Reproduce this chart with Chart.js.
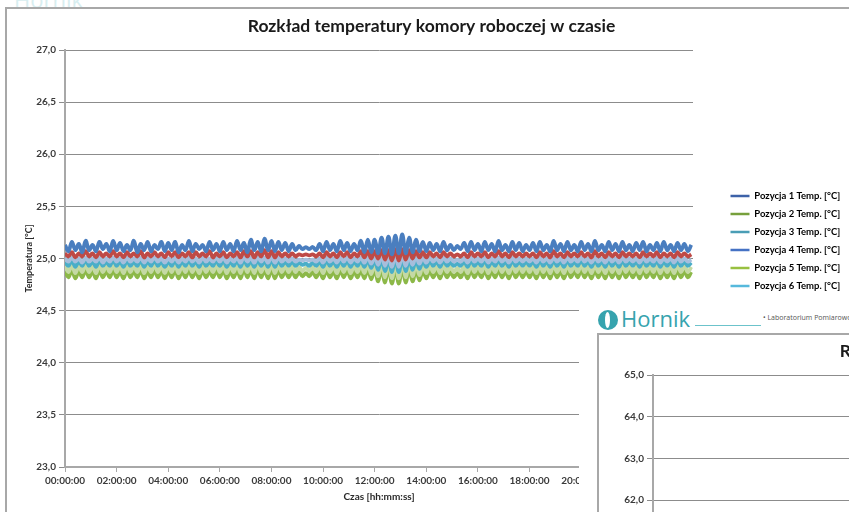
<!DOCTYPE html>
<html>
<head>
<meta charset="utf-8">
<script src="https://cdn.jsdelivr.net/npm/chart.js@4.4.1/dist/chart.umd.min.js"></script>
<style>
  html, body { margin: 0; width: 849px; height: 512px; overflow: hidden; background: #fff; font-family: Lato, sans-serif; }
  .frame { position: absolute; border: 2px solid #a8a8a8; box-sizing: border-box; }
  #frame1 { left: 5px; top: 7px; width: 900px; height: 600px; }
  #main { position: absolute; left: 0; top: 0; }
  #topLogo { position: absolute; left: 14px; top: -16px; font: 22px "Open Sans", sans-serif; color: #d8eef0; }
  #sheet2 { position: absolute; left: 579px; top: 300px; width: 300px; height: 260px; background: #fff; overflow: hidden; }
  .logo { position: absolute; left: 19px; top: 3px; font: 22px "Open Sans", sans-serif; color: #36a3ae; white-space: nowrap; }
  .logo i { display: inline-block; width: 20px; height: 20px; border-radius: 50%; background: #36a3ae; position: relative; vertical-align: -3px; margin-right: 3px; }
  .logo i::after { content: ""; position: absolute; left: 7px; top: 2px; width: 5px; height: 16px; border-radius: 50%; background: #fff; }
  #rule2 { position: absolute; left: 116px; top: 25px; width: 66px; height: 1px; background: #6cc3cb; }
  #lab2 { position: absolute; left: 184px; top: 13px; font: 7px "Open Sans", sans-serif; color: #555; white-space: nowrap; }
  #frame2 { left: 18px; top: 33px; width: 400px; height: 300px; }
  #second { position: absolute; left: 13px; top: 25px; }
</style>
</head>
<body>
<div id="topLogo">Hornik</div>
<div class="frame" id="frame1"></div>
<canvas id="main" width="863" height="512"></canvas>

<div id="sheet2">
  <div class="logo"><i></i>Hornik</div>
  <div id="rule2"></div>
  <div id="lab2">• Laboratorium Pomiarowo-Badawcze</div>
  <div class="frame" id="frame2"></div>
  <canvas id="second" width="863" height="512"></canvas>
</div>

<script>
// one reading every 8 minutes (peaks and troughs of the regulation cycle)
const sampleMinutes = 8;

const seriesNames = [
  "Pozycja 1 Temp. [°C]",
  "Pozycja 2 Temp. [°C]",
  "Pozycja 3 Temp. [°C]",
  "Pozycja 4 Temp. [°C]",
  "Pozycja 5 Temp. [°C]",
  "Pozycja 6 Temp. [°C]"
];

// each row = 2 hours
const pos1 = [
  25.13,25.07,25.16,25.08,25.14,25.06,25.17,25.08,25.13,25.07,25.16,25.09,25.14,25.07,25.17,
  25.08,25.15,25.07,25.13,25.08,25.17,25.06,25.14,25.08,25.16,25.07,25.13,25.09,25.16,25.07,
  25.15,25.08,25.16,25.06,25.13,25.08,25.17,25.07,25.14,25.09,25.13,25.07,25.16,25.08,25.14,
  25.07,25.16,25.08,25.14,25.07,25.17,25.08,25.15,25.06,25.18,25.08,25.16,25.07,25.19,25.08,
  25.17,25.07,25.16,25.08,25.15,25.07,25.14,25.08,25.12,25.09,25.11,25.09,25.11,25.08,25.14,
  25.07,25.16,25.08,25.14,25.07,25.17,25.08,25.15,25.07,25.14,25.08,25.17,25.06,25.18,25.06,
  25.18,25.05,25.20,25.05,25.21,25.04,25.22,25.05,25.23,25.05,25.20,25.06,25.18,25.07,25.16,
  25.07,25.15,25.08,25.14,25.07,25.16,25.08,25.13,25.08,25.12,25.09,25.15,25.07,25.16,25.08,
  25.14,25.07,25.16,25.08,25.14,25.07,25.17,25.08,25.13,25.07,25.16,25.08,25.15,25.07,25.13,
  25.08,25.15,25.07,25.16,25.08,25.13,25.07,25.17,25.08,25.14,25.07,25.16,25.08,25.13,25.07,
  25.16,25.08,25.14,25.07,25.17,25.08,25.13,25.07,25.16,25.08,25.14,25.07,25.16,25.08,25.13,
  25.07,25.15,25.08,25.16,25.07,25.13,25.08,25.15,25.07,25.16,25.08,25.13,25.07,25.15,25.08,
  25.14,25.07,25.13
];

const pos2 = [
  24.88,24.82,24.89,24.81,24.88,24.82,24.89,24.82,24.88,24.81,24.89,24.82,24.88,24.82,24.89,
  24.82,24.88,24.81,24.89,24.82,24.88,24.82,24.89,24.81,24.88,24.82,24.89,24.82,24.88,24.81,
  24.88,24.82,24.89,24.81,24.88,24.82,24.89,24.82,24.88,24.81,24.89,24.82,24.88,24.82,24.89,
  24.82,24.89,24.81,24.88,24.82,24.89,24.81,24.90,24.82,24.89,24.81,24.90,24.82,24.89,24.81,
  24.90,24.81,24.89,24.82,24.88,24.82,24.88,24.82,24.87,24.83,24.86,24.83,24.87,24.82,24.88,
  24.81,24.89,24.82,24.88,24.81,24.89,24.82,24.89,24.81,24.88,24.82,24.89,24.81,24.90,24.80,
  24.90,24.78,24.91,24.77,24.92,24.76,24.92,24.76,24.92,24.77,24.91,24.78,24.90,24.79,24.89,
  24.81,24.89,24.82,24.88,24.81,24.89,24.82,24.87,24.82,24.86,24.82,24.88,24.81,24.89,24.82,
  24.88,24.82,24.89,24.81,24.88,24.82,24.89,24.82,24.88,24.81,24.89,24.82,24.88,24.82,24.88,
  24.82,24.88,24.81,24.89,24.82,24.88,24.81,24.89,24.82,24.88,24.81,24.89,24.82,24.88,24.82,
  24.89,24.82,24.88,24.81,24.89,24.82,24.88,24.81,24.89,24.82,24.88,24.81,24.89,24.82,24.88,
  24.82,24.88,24.81,24.89,24.82,24.88,24.82,24.89,24.81,24.88,24.82,24.88,24.81,24.89,24.82,
  24.88,24.82,24.87
];

const pos3 = [
  24.97,24.93,24.98,24.92,24.97,24.93,24.98,24.93,24.97,24.92,24.98,24.93,24.97,24.93,24.98,
  24.93,24.97,24.92,24.98,24.93,24.97,24.93,24.98,24.92,24.97,24.93,24.98,24.93,24.97,24.92,
  24.97,24.93,24.98,24.92,24.97,24.93,24.98,24.93,24.97,24.92,24.98,24.93,24.97,24.93,24.98,
  24.93,24.98,24.92,24.97,24.93,24.98,24.92,24.99,24.93,24.98,24.92,24.99,24.93,24.98,24.92,
  24.99,24.92,24.98,24.93,24.97,24.93,24.97,24.93,24.96,24.94,24.95,24.93,24.96,24.93,24.97,
  24.92,24.98,24.93,24.97,24.92,24.98,24.93,24.98,24.92,24.97,24.93,24.98,24.92,24.99,24.91,
  24.99,24.89,25.00,24.88,25.00,24.87,25.01,24.87,25.01,24.88,25.00,24.89,24.99,24.90,24.98,
  24.92,24.98,24.93,24.97,24.92,24.98,24.93,24.96,24.93,24.95,24.93,24.97,24.92,24.98,24.93,
  24.97,24.93,24.98,24.92,24.97,24.93,24.98,24.93,24.97,24.92,24.98,24.93,24.97,24.93,24.97,
  24.93,24.97,24.92,24.98,24.93,24.97,24.92,24.98,24.93,24.97,24.92,24.98,24.93,24.97,24.93,
  24.98,24.93,24.97,24.92,24.98,24.93,24.97,24.92,24.98,24.93,24.97,24.92,24.98,24.93,24.97,
  24.93,24.97,24.92,24.98,24.93,24.97,24.93,24.98,24.92,24.97,24.93,24.97,24.92,24.98,24.93,
  24.97,24.93,24.96
];

const pos4 = [
  25.05,25.02,25.06,25.01,25.05,25.02,25.07,25.02,25.05,25.01,25.06,25.02,25.05,25.02,25.07,
  25.02,25.05,25.01,25.06,25.02,25.05,25.02,25.07,25.01,25.05,25.02,25.06,25.02,25.05,25.01,
  25.06,25.02,25.06,25.01,25.05,25.02,25.06,25.01,25.06,25.02,25.05,25.02,25.07,25.01,25.05,
  25.02,25.06,25.01,25.05,25.02,25.06,25.01,25.07,25.02,25.07,25.01,25.06,25.02,25.08,25.01,
  25.07,25.01,25.06,25.02,25.05,25.02,25.05,25.02,25.04,25.03,25.04,25.03,25.04,25.02,25.05,
  25.01,25.06,25.02,25.05,25.01,25.06,25.02,25.06,25.01,25.05,25.02,25.07,25.01,25.07,25.00,
  25.07,25.00,25.08,24.99,25.08,24.98,25.09,24.98,25.09,24.99,25.08,25.00,25.07,25.01,25.06,
  25.01,25.06,25.02,25.05,25.01,25.06,25.02,25.05,25.02,25.04,25.02,25.05,25.01,25.06,25.02,
  25.05,25.02,25.06,25.01,25.05,25.02,25.07,25.02,25.05,25.01,25.06,25.02,25.05,25.02,25.05,
  25.02,25.05,25.01,25.06,25.02,25.05,25.01,25.07,25.02,25.05,25.01,25.06,25.02,25.05,25.02,
  25.06,25.02,25.05,25.01,25.07,25.02,25.05,25.01,25.06,25.02,25.05,25.01,25.06,25.02,25.05,
  25.02,25.05,25.01,25.06,25.02,25.05,25.02,25.06,25.01,25.05,25.02,25.05,25.01,25.06,25.02,
  25.05,25.02,25.04
];

const pos5 = [
  24.93,24.87,24.94,24.86,24.93,24.87,24.94,24.87,24.93,24.86,24.94,24.87,24.93,24.87,24.94,
  24.87,24.93,24.86,24.94,24.87,24.93,24.87,24.94,24.86,24.93,24.87,24.94,24.87,24.93,24.86,
  24.93,24.87,24.94,24.86,24.93,24.87,24.94,24.87,24.93,24.86,24.94,24.87,24.93,24.87,24.94,
  24.87,24.94,24.86,24.93,24.87,24.94,24.86,24.95,24.87,24.94,24.86,24.95,24.87,24.94,24.86,
  24.95,24.86,24.94,24.87,24.93,24.87,24.93,24.87,24.92,24.88,24.91,24.88,24.92,24.87,24.93,
  24.86,24.94,24.87,24.93,24.86,24.94,24.87,24.94,24.86,24.93,24.87,24.94,24.86,24.95,24.85,
  24.95,24.83,24.96,24.82,24.97,24.81,24.97,24.81,24.97,24.82,24.96,24.83,24.95,24.84,24.94,
  24.86,24.94,24.87,24.93,24.86,24.94,24.87,24.92,24.87,24.91,24.87,24.93,24.86,24.94,24.87,
  24.93,24.87,24.94,24.86,24.93,24.87,24.94,24.87,24.93,24.86,24.94,24.87,24.93,24.87,24.93,
  24.87,24.93,24.86,24.94,24.87,24.93,24.86,24.94,24.87,24.93,24.86,24.94,24.87,24.93,24.87,
  24.94,24.87,24.93,24.86,24.94,24.87,24.93,24.86,24.94,24.87,24.93,24.86,24.94,24.87,24.93,
  24.87,24.93,24.86,24.94,24.87,24.93,24.87,24.94,24.86,24.93,24.87,24.93,24.86,24.94,24.87,
  24.93,24.87,24.92
];

const pos6 = [
  25.00,24.97,25.01,24.97,25.00,24.96,25.01,24.97,25.00,24.97,25.01,24.96,25.00,24.97,25.01,
  24.97,25.00,24.96,25.01,24.97,25.00,24.97,25.01,24.96,25.00,24.97,25.01,24.97,25.00,24.96,
  25.00,24.97,25.01,24.96,25.00,24.97,25.01,24.97,25.00,24.96,25.01,24.97,25.00,24.97,25.01,
  24.97,25.01,24.96,25.00,24.97,25.01,24.96,25.02,24.97,25.01,24.96,25.02,24.97,25.01,24.96,
  25.02,24.96,25.01,24.97,25.00,24.97,25.00,24.97,24.99,24.98,24.99,24.98,24.99,24.97,25.00,
  24.96,25.01,24.97,25.00,24.96,25.01,24.97,25.01,24.96,25.00,24.97,25.01,24.96,25.02,24.95,
  25.02,24.94,25.03,24.93,25.03,24.92,25.04,24.92,25.04,24.93,25.03,24.94,25.02,24.95,25.01,
  24.96,25.01,24.97,25.00,24.96,25.01,24.97,25.00,24.97,24.99,24.97,25.00,24.96,25.01,24.97,
  25.00,24.97,25.01,24.96,25.00,24.97,25.01,24.97,25.00,24.96,25.01,24.97,25.00,24.97,25.00,
  24.97,25.00,24.96,25.01,24.97,25.00,24.96,25.01,24.97,25.00,24.96,25.01,24.97,25.00,24.97,
  25.01,24.97,25.00,24.96,25.01,24.97,25.00,24.96,25.01,24.97,25.00,24.96,25.01,24.97,25.00,
  24.97,25.00,24.96,25.01,24.97,25.00,24.97,25.01,24.96,25.00,24.97,25.00,24.96,25.01,24.97,
  25.00,24.97,24.99
];

const seriesValues = [pos1, pos2, pos3, pos4, pos5, pos6];
const minutes = pos1.map((_, i) => i * sampleMinutes);

const lineColors = ["#4a7ebf", "#8cb848", "#4aaec8", "#bf4a46", "#c4d9a4", "#a6bedc"];
const legendColors = ["#3d62a8", "#77a03c", "#4a9db5", "#4572c4", "#98c040", "#56b9dc"];
const drawOrder = [0, 5, 3, 1, 4, 2]; // lower = drawn on top

const tickFont = { family: "Lato", size: 10, weight: "bold" };
const legendFont = { family: "Lato", size: 9.5, weight: "bold" };
const axisGrey = "#a8a8a8";
const timeLabel = v => String(v / 60).padStart(2, "0") + ":00:00";
const comma = v => v.toFixed(1).replace(".", ",");

// Excel leaves a wide gap between plot and legend, Chart.js puts it right next to the plot
const legendBoxWidth = 170;
const legendShift = 29;
const legendLift = 15;
const legendGap = {
  id: "legendGap",
  beforeLayout(chart) {
    const legend = chart.legend;
    if (legend && !legend._gapFit) {
      const fit = legend.fit;
      legend.fit = function () { fit.call(this); this.width = legendBoxWidth; };
      legend._gapFit = true;
    }
  },
  afterLayout(chart) {
    const legend = chart.legend;
    legend.left += legendShift; legend.right += legendShift;
    legend.top -= legendLift; legend.bottom -= legendLift;
  }
};

function axes(yMin, yMax, yStep, yWidth) {
  return {
    x: {
      type: "linear", min: 0, max: 1460,
      ticks: { stepSize: 120, includeBounds: false, autoSkip: false, maxRotation: 0, padding: 3,
        font: tickFont, color: "#3a3a3a", callback: timeLabel },
      grid: { drawOnChartArea: false, tickLength: 5, color: axisGrey },
      border: { color: axisGrey, width: 2 },
      title: { display: true, text: "Czas [hh:mm:ss]", font: tickFont, color: "#2a2a2a", padding: { top: 0, bottom: 9 } },
      afterFit: s => { s.height = 45; }
    },
    y: {
      min: yMin, max: yMax,
      ticks: { stepSize: yStep, padding: 3, font: tickFont, color: "#3a3a3a", callback: comma },
      grid: { color: "#8c8c8c", tickLength: 6 },
      border: { color: axisGrey, width: 2 },
      title: { display: true, text: "Temperatura [°C]", font: { family: "Lato", size: 9, weight: "bold" }, color: "#2a2a2a", padding: { top: 24, bottom: 0 } },
      afterFit: s => { s.width = yWidth; }
    }
  };
}

const chartTitle = {
  display: true,
  text: "Rozkład temperatury komory roboczej w czasie",
  font: { family: "Lato", size: 17.5, weight: "bold" },
  color: "#1a1a1a",
  padding: { top: 16, bottom: 13 }
};

new Chart(document.getElementById("main"), {
  type: "line",
  data: {
    labels: minutes,
    datasets: seriesNames.map((name, i) => ({
      label: name,
      data: seriesValues[i],
      borderColor: lineColors[i],
      backgroundColor: lineColors[i],
      borderWidth: 3.8,
      pointRadius: 0,
      tension: 0.4,
      order: drawOrder[i]
    }))
  },
  options: {
    responsive: false,
    animation: false,
    events: [],
    layout: { padding: 0 },
    scales: axes(23, 27, 0.5, 65),
    plugins: {
      title: chartTitle,
      tooltip: { enabled: false },
      legend: {
        position: "right",
        labels: {
          boxWidth: 19, boxHeight: 2.5, padding: 8.5,
          font: legendFont, color: "#2a2a2a",
          generateLabels: chart => chart.data.datasets.map((ds, i) => ({
            text: ds.label, fillStyle: legendColors[i], strokeStyle: legendColors[i],
            lineWidth: 0, hidden: false, datasetIndex: i
          }))
        }
      }
    }
  },
  plugins: [legendGap]
});

// next page of the report sticks out underneath: only its frame, title start and top of the y axis show
new Chart(document.getElementById("second"), {
  type: "line",
  data: { labels: minutes, datasets: [] },
  options: {
    responsive: false,
    animation: false,
    events: [],
    layout: { padding: 0 },
    scales: axes(55, 65, 1, 61),
    plugins: { title: chartTitle, legend: { display: false }, tooltip: { enabled: false } }
  }
});
</script>
</body>
</html>
